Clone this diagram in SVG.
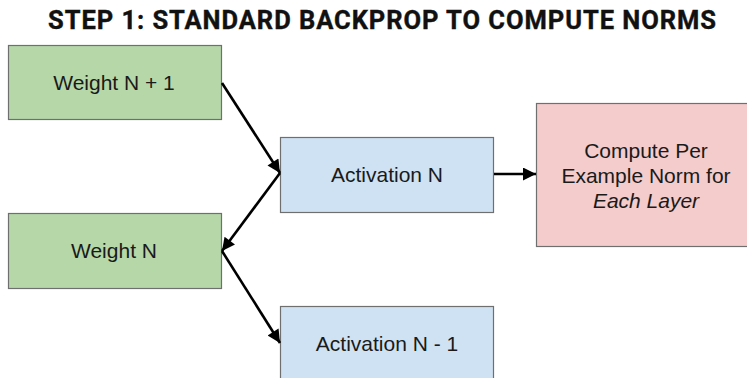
<svg xmlns="http://www.w3.org/2000/svg" width="747" height="378" viewBox="0 0 747 378">
  <style>
    .title { font-family: Roboto, "Liberation Sans", sans-serif; font-weight: 700; font-size: 25.5px; fill: #111; }
    .box { stroke: #6f6f6f; stroke-width: 1.2; }
    .weight { fill: #b6d7a8; }
    .act { fill: #cfe2f3; }
    .norm { fill: #f4cccc; }
    .label { font-family: "Liberation Sans", Arial, sans-serif; font-size: 21px; fill: #1a1a1a; text-anchor: middle; }
    .edge { stroke: #000; stroke-width: 2.6; fill: none; marker-end: url(#arrow); }
  </style>
  <defs>
    <marker id="arrow" viewBox="0 0 10 10" refX="10" refY="5" markerWidth="6" markerHeight="5" markerUnits="strokeWidth" orient="auto">
      <path d="M0,0 L10,5 L0,10 z" fill="#000"/>
    </marker>
  </defs>
  <rect width="747" height="378" fill="#fff"/>

  <text class="title" x="48" y="29" textLength="668" lengthAdjust="spacing" stroke="#111" stroke-width="0.4">STEP 1: STANDARD BACKPROP TO COMPUTE NORMS</text>

  <g id="weight-n-plus-1">
    <rect class="box weight" x="8.5" y="45.5" width="213" height="74"/>
    <text class="label" x="114" y="90">Weight N + 1</text>
  </g>
  <g id="activation-n">
    <rect class="box act" x="280.5" y="137.5" width="213" height="75"/>
    <text class="label" x="387" y="182">Activation N</text>
  </g>
  <g id="weight-n">
    <rect class="box weight" x="8.5" y="213.5" width="213" height="75"/>
    <text class="label" x="114" y="258">Weight N</text>
  </g>
  <g id="activation-n-minus-1">
    <rect class="box act" x="280.5" y="306.5" width="213" height="80"/>
    <text class="label" x="387" y="351">Activation N - 1</text>
  </g>
  <g id="per-example-norm">
    <rect class="box norm" x="536.5" y="103.5" width="220" height="143"/>
    <text class="label" x="646" y="158">Compute Per</text>
    <text class="label" x="646" y="183">Example Norm for</text>
    <text class="label" x="646" y="208" font-style="italic">Each Layer</text>
  </g>

  <g id="connectors">
    <line class="edge" x1="222" y1="83" x2="280" y2="173"/>
    <line class="edge" x1="280" y1="173" x2="222" y2="251"/>
    <line class="edge" x1="222" y1="251" x2="280" y2="343"/>
    <line class="edge" x1="494" y1="174" x2="536" y2="174"/>
  </g>
</svg>
